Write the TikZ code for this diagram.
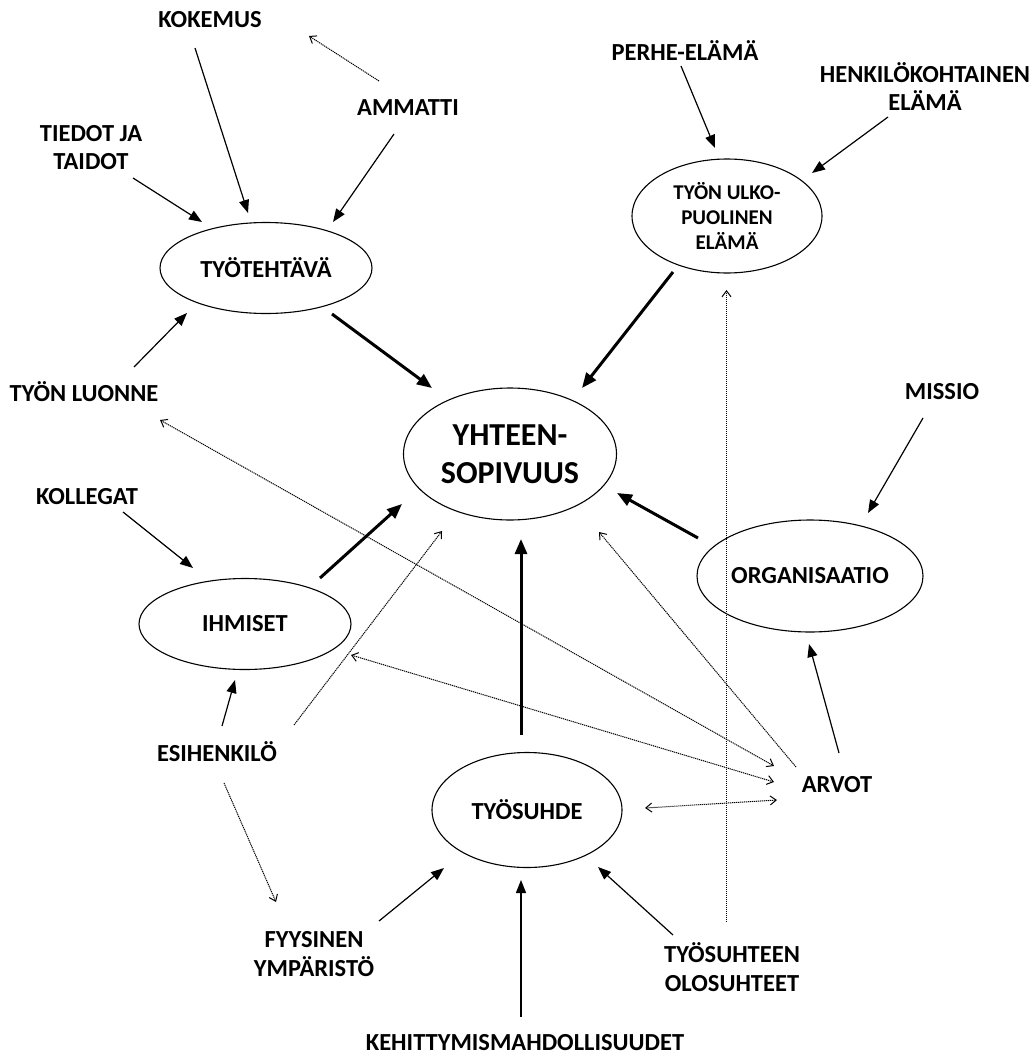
\documentclass[tikz,border=0pt]{standalone}
\usepackage{fontspec}
\setmainfont{Carlito}
\usetikzlibrary{arrows.meta,shapes.geometric,calc,backgrounds}
\begin{document}
\begin{tikzpicture}[x=1pt,y=-1pt,
  lbl/.style={font=\fontsize{24.5}{28.5}\selectfont\bfseries, align=center, inner sep=0pt},
  ell/.style={ellipse, draw, line width=1.1pt, fill=white, inner sep=0pt, align=center,
    font=\fontsize{24.5}{28.5}\selectfont\bfseries},
  arr/.style={line width=1.2pt, -{Triangle[length=13pt,width=10pt]}},
  thk/.style={line width=3pt, -{Triangle[length=15pt,width=12pt]}},
  dot/.style={line width=1pt, dash pattern=on 1.2pt off 0.8pt, -{Straight Barb[length=6pt,width=9pt]}},
  dotb/.style={line width=1pt, dash pattern=on 1.2pt off 0.8pt, {Straight Barb[length=6pt,width=9pt]}-{Straight Barb[length=6pt,width=9pt]}}
]
\useasboundingbox (0,0) rectangle (1035,1057);
\fill[white] (0,0) rectangle (1035,1057);

% labels
\node[lbl] (kok) at (210,20) {KOKEMUS};
\node[lbl] (amm) at (408,108) {AMMATTI};
\node[lbl] (tied) at (91,147.5) {TIEDOT JA\\TAIDOT};
\node[lbl] (perhe) at (685,51) {PERHE-ELÄMÄ};
\node[lbl] (henk) at (925,86.5) {HENKILÖKOHTAINEN\\ELÄMÄ};
\node[lbl] (luonne) at (84,392) {TYÖN LUONNE};
\node[lbl] (missio) at (942,392) {MISSIO};
\node[lbl] (koll) at (87,497) {KOLLEGAT};
\node[lbl] (esi) at (217,752) {ESIHENKILÖ};
\node[lbl] (arvot) at (837,785) {ARVOT};
\node[lbl] (fyys) at (314,954) {FYYSINEN\\YMPÄRISTÖ};
\node[lbl] (olo) at (732,967) {TYÖSUHTEEN\\OLOSUHTEET};
\node[lbl] (keh) at (525,1043) {KEHITTYMISMAHDOLLISUUDET};

% ellipses
\node[ell, minimum width=212pt, minimum height=91pt] (teht) at (266,268) {TYÖTEHTÄVÄ};
\node[ell, minimum width=190pt, minimum height=114pt, font=\fontsize{21}{25}\selectfont\bfseries] (ulko) at (727,216) {TYÖN ULKO-\\PUOLINEN\\ELÄMÄ};
\node[ell, minimum width=213pt, minimum height=132pt, font=\fontsize{32}{38}\selectfont\bfseries] (yht) at (510,454) {YHTEEN-\\SOPIVUUS};
\node[ell, minimum width=212pt, minimum height=91pt] (ihm) at (245,624) {IHMISET};
\node[ell, minimum width=226pt, minimum height=112pt] (org) at (810,576) {ORGANISAATIO};
\node[ell, minimum width=190pt, minimum height=115pt] (suhde) at (527,810) {TYÖSUHDE};

% dotted line passing behind YHTEENSOPIVUUS
\begin{scope}[on background layer]
\draw[dot] ($(arvot)+(-28,-32)$) -- ($(kok)+(48,40)$);
\end{scope}

% thin solid arrows
\draw[arr] ($(kok)+(-15,28)$) -- ($(teht)+(-18,-55)$);
\draw[arr] ($(amm)+(-14,26)$) -- ($(teht)+(67,-46)$);
\draw[arr] ($(tied)+(42,30.5)$) -- ($(teht)+(-64,-46)$);
\draw[arr] ($(luonne)+(50,-25)$) -- ($(teht)+(-79,45)$);
\draw[arr] ($(perhe)+(-4,15)$) -- ($(ulko)+(-12,-68)$);
\draw[arr] ($(henk)+(-37,30.5)$) -- ($(ulko)+(85,-43)$);
\draw[arr] ($(missio)+(-19,26)$) -- ($(org)+(58,-63)$);
\draw[arr] ($(arvot)+(2,-32)$) -- ($(org)+(-1,68)$);
\draw[arr] ($(koll)+(36,15)$) -- ($(ihm)+(-52,-56)$);
\draw[arr] ($(esi)+(5,-26)$) -- ($(ihm)+(-10,56)$);
\draw[arr] ($(fyys)+(65,-33)$) -- ($(suhde)+(-83,58)$);
\draw[arr] ($(keh)+(-4,-26)$) -- ($(suhde)+(-6,70)$);
\draw[arr] ($(olo)+(-59,-32)$) -- ($(suhde)+(71,57)$);

% thick arrows
\draw[thk] ($(teht)+(66,46)$) -- ($(yht)+(-78,-66)$);
\draw[thk] ($(ulko)+(-54,56)$) -- ($(yht)+(72,-66)$);
\draw[thk] ($(org)+(-112,-38)$) -- ($(yht)+(107,39)$);
\draw[thk] ($(ihm)+(75,-46)$) -- ($(yht)+(-108,50)$);
\draw[thk] ($(suhde)+(-6,-75)$) -- ($(yht)+(11,85)$);

% dotted arrows
\draw[dot] ($(amm)+(-29,-27)$) -- ($(kok)+(99,16)$);
\draw[dot] ($(arvot)+(-41,-18)$) -- ($(yht)+(89,78)$);
\draw[dot] ($(esi)+(77,-27)$) -- ($(yht)+(-68,77)$);
\draw[dot] ($(esi)+(7,31)$) -- ($(fyys)+(-38,-52)$);
\draw[dot] ($(olo)+(-5.5,-45)$) -- ($(ulko)+(-0.5,74)$);
\draw[dotb] ($(luonne)+(76,28)$) -- ($(arvot)+(-63,-19)$);
\draw[dotb] ($(ihm)+(106,31)$) -- ($(arvot)+(-63,-3)$);
\draw[dotb] ($(suhde)+(118,-2)$) -- ($(arvot)+(-60,15)$);
\end{tikzpicture}
\end{document}
